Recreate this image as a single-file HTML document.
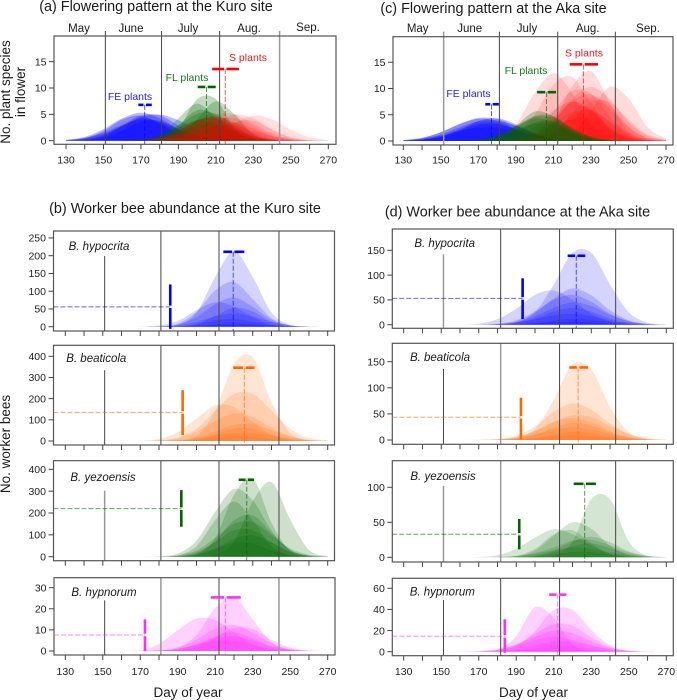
<!DOCTYPE html>
<html>
<head>
<meta charset="utf-8">
<title>Flowering pattern and worker bee abundance</title>
<style>
html,body{margin:0;padding:0;background:#fff;}
svg{display:block;font-family:"Liberation Sans",sans-serif;}
.title{font-size:14.4px;fill:#1a1a1a;text-anchor:middle;}
.axt{font-size:13.5px;fill:#1a1a1a;text-anchor:middle;}
.month{font-size:11.5px;fill:#1a1a1a;text-anchor:middle;}
.sp{font-size:11.5px;font-style:italic;fill:#1a1a1a;text-anchor:middle;}
.grp{font-size:10.5px;text-anchor:middle;}
.tick{font-size:10.5px;fill:#222;}
</style>
</head>
<body>
<svg id="figure" width="677" height="700" viewBox="0 0 677 700" xmlns="http://www.w3.org/2000/svg">
<rect x="0" y="0" width="677" height="700" fill="#fff"/>
<g id="plots"></g>

<text class="title" x="156" y="11">(a) Flowering pattern at the Kuro site</text>
<text class="title" x="493.5" y="13">(c) Flowering pattern at the Aka site</text>
<text class="title" x="185" y="213">(b) Worker bee abundance at the Kuro site</text>
<text class="title" x="517.5" y="216.5">(d) Worker bee abundance at the Aka site</text>

<text class="axt" transform="translate(10,92) rotate(-90)">No. plant species</text>
<text class="axt" transform="translate(25,92) rotate(-90)">in flower</text>
<text class="axt" transform="translate(10,444) rotate(-90)">No. worker bees</text>
<text class="axt" x="188" y="697">Day of year</text>
<text class="axt" x="533.5" y="697">Day of year</text>

<g>
<text class="month" x="79" y="32">May</text>
<text class="month" x="131" y="32">June</text>
<text class="month" x="188" y="32">July</text>
<text class="month" x="249" y="32">Aug.</text>
<text class="month" x="308" y="31">Sep.</text>
</g>
<g>
<text class="month" x="417.7" y="32">May</text>
<text class="month" x="469.7" y="32">June</text>
<text class="month" x="527" y="32">July</text>
<text class="month" x="587.7" y="32">Aug.</text>
<text class="month" x="648" y="32">Sep.</text>
</g>

<text class="grp" x="130" y="100" fill="#2222ee">FE plants</text>
<text class="grp" x="187" y="81" fill="#157a15">FL plants</text>
<text class="grp" x="248" y="61" fill="#f01515">S plants</text>
<text class="grp" x="468.5" y="97" fill="#2222ee">FE plants</text>
<text class="grp" x="526" y="74" fill="#157a15">FL plants</text>
<text class="grp" x="584" y="56.5" fill="#f01515">S plants</text>

<text class="sp" x="99" y="250">B. hypocrita</text>
<text class="sp" x="96.3" y="362">B. beaticola</text>
<text class="sp" x="103" y="481">B. yezoensis</text>
<text class="sp" x="104" y="596">B. hypnorum</text>
<text class="sp" x="444.7" y="247">B. hypocrita</text>
<text class="sp" x="440" y="361">B. beaticola</text>
<text class="sp" x="443" y="480">B. yezoensis</text>
<text class="sp" x="442.3" y="595.5">B. hypnorum</text>
</svg>

<script>
// Sampled days shared by every density curve
const sampleDays = [130,140,150,160,170,180,190,200,210,220,230,240,250,260,270];
const dayTicks = [130,140,150,160,170,180,190,200,210,220,230,240,250,260,270];
const dayTickLabels = [130,150,170,190,210,230,250,270];

// (a) Kuro flowering
const kuroFeCurves = [
[.15,.72,2.2,4.25,5.3,4.25,2.2,.72,.15,.02,0,0,0,0,0],
[.03,.22,1,2.9,4.8,4.8,2.9,1,.22,.03,0,0,0,0,0],
[.07,.48,1.85,4,4.75,3.15,1.15,.23,.03,0,0,0,0,0,0],
[0,.12,.82,2.67,4.3,3.5,1.43,.29,.03,0,0,0,0,0,0],
[0,.09,.54,1.9,3.6,3.8,2.2,.72,.14,.02,0,0,0,0,0],
[.13,.54,1.56,3,3.96,3.5,2.1,.86,.24,.05,0,0,0,0,0],
[.1,.45,1.28,2.85,4.47,4.96,3.9,2.15,.85,.24,.05,0,0,0,0]
];
const kuroFlCurves = [
[0,0,0,0,.03,.18,2.3,7.9,7.9,2.3,.18,.03,0,0,0],
[0,0,0,0,.08,.95,4.25,7,4.25,.95,.08,0,0,0,0],
[0,0,0,0,0,.05,.83,4.1,7.46,5,1.23,.1,0,0,0],
[0,0,0,0,.07,.66,3,5.8,4.9,1.8,.3,.02,0,0,0],
[0,0,0,0,.14,.87,2.83,5.1,5.1,2.83,.87,.14,0,0,0],
[0,0,0,0,.04,.36,1.7,3.8,4.4,2.5,.71,.1,0,0,0],
[0,0,0,0,.03,.3,1.8,3.9,4.2,2.2,.5,.05,0,0,0],
[0,0,0,0,.1,.8,2.5,3.9,3.3,1.5,.4,.05,0,0,0],
[0,0,0,.02,.15,.6,1.5,2.8,3,2,.9,.2,.03,0,0]
];
const kuroSCurves = [
[0,0,0,0,0,0,.05,.35,1.4,3.3,4.75,4.05,2.1,.65,.12],
[0,0,0,0,.06,.35,1.3,3.2,5,5,3.2,1.3,.35,.06,0],
[0,0,0,0,0,.05,.35,1.45,3.45,4.95,4.25,2.2,.68,.13,.02],
[0,0,0,0,.07,.45,1.62,3.5,4.5,3.5,1.62,.45,.07,0,0],
[0,0,0,0,0,0,.04,.38,1.65,3.5,3.8,2,.54,.07,0],
[0,0,0,0,0,.05,.35,1.35,2.9,3.46,2.27,.84,.17,.02,0],
[0,0,0,0,.06,.27,.9,1.93,2.85,2.85,1.93,.9,.27,.06,0],
[0,0,0,0,.03,.4,1.8,3.9,4.6,3.4,1.4,.3,.03,0,0],
[0,0,0,0,.1,.7,2.2,4,4.6,3,1.2,.3,.05,0,0],
[0,0,0,0,.02,.15,.8,2.4,4,4.3,2.8,1,.2,.02,0]
];
const kuroFeMarker = [172,168.6,175.8,6.8];
const kuroFlMarker = [205,200.3,209.9,10.2];
const kuroSMarker = [215,208,222.3,13.6];

// (c) Aka flowering
const akaFeCurves = [
[.15,.6,1.66,3.2,4.4,4.2,2.9,1.4,.5,.12,.02,0,0,0,0],
[.14,.58,1.68,3.25,4.25,3.8,2.3,.93,.26,.05,0,0,0,0,0],
[.03,.18,.77,2.1,3.8,4.35,3.2,1.5,.45,.09,0,0,0,0,0],
[.1,.43,1.24,2.57,3.76,3.9,2.85,1.48,.54,.14,.02,0,0,0,0],
[.04,.24,.9,2.2,3.4,3.4,2.2,.9,.24,.04,0,0,0,0,0],
[.04,.2,.7,1.8,3,3.15,2.3,1.15,.4,.1,0,0,0,0,0],
[.13,.44,1,1.9,2.55,2.5,1.8,1,.44,.12,0,0,0,0,0]
];
const akaFlCurves = [
[0,0,0,0,.06,.65,2.9,5.6,4.7,1.75,.3,.02,0,0,0],
[0,0,0,0,.07,.6,2.4,4.75,4.75,2.4,.6,.07,0,0,0],
[0,0,0,.03,.25,1.1,2.9,4.6,4.4,2.5,.85,.18,.03,0,0],
[0,0,0,.02,.2,1,2.8,4.25,3.55,1.6,.42,.06,0,0,0],
[0,0,0,0,.05,.38,1.6,3.5,3.8,2.1,.55,.08,0,0,0],
[0,0,0,.05,.25,.95,2.2,3.3,3.1,1.9,.8,.2,.03,0,0]
];
const akaSCurves = [
[0,0,0,0,.05,.57,3.2,9.1,12.9,9.1,3.2,.57,.05,0,0],
[0,0,0,0,0,.15,1.2,5,10.7,12.2,7.3,2.3,.4,.04,0],
[0,0,0,0,0,0,.03,.5,3.5,10.4,13.3,7.4,1.8,.2,.02],
[0,0,0,0,0,0,0,0,.15,1.4,5.8,10.3,8.1,2.7,.4],
[0,0,0,0,0,0,.17,1,3.7,8,10.3,8,3.7,1,.17],
[0,0,0,0,0,.03,.34,1.8,5.6,9.5,9,4.7,1.35,.22,.02],
[0,0,0,0,0,0,.05,.24,1.6,5.2,8.4,6.8,2.8,.56,.06],
[0,0,0,0,0,.13,.77,2.7,5.8,7.5,5.8,2.7,.77,.13,0],
[0,0,0,0,0,.05,.3,1.3,3.4,5.5,5.8,3.8,1.6,.45,.08],
[0,0,0,0,0,0,.1,.7,2.3,4.2,4.2,2.3,.7,.1,0],
[0,0,0,0,0,0,.23,1.2,3.9,7.6,8.9,6.2,2.6,.65,.1],
[0,0,0,0,0,0,0,.21,1.27,4.1,7.4,7.4,4.1,1.27,.21],
[0,0,0,0,0,0,.21,1.4,4.5,7.4,6,2.4,.5,.05,0],
[0,0,0,0,0,0,.04,.4,2,4.8,5.9,3.6,1.1,.17,0]
];
const akaFeMarker = [177,173.7,180.9,7];
const akaFlMarker = [206.3,201.3,211.4,9.3];
const akaSMarker = [226,218.7,233.8,14.6];

// (b) Kuro worker bees
const kuroHypocritaCurves = [
[0,0,0,0,0,0,5,40,140,212,140,40,5,0,0],
[0,0,0,0,0,.7,8.5,42,102,126,78,24,3.6,.3,0],
[0,0,0,0,0,.7,6,27,63,82,56,20,3.6,.4,0],
[0,0,0,0,.4,3.4,16,46,69,57,27,7,1,0,0],
[0,0,0,0,0,0,.8,7.4,30,54,43,14,2,0,0],
[0,0,0,0,0,.6,3.8,14,29,38,29,14,3.8,.6,0],
[0,0,0,0,0,.3,1.7,7,18,21.8,14,5,1.2,.1,0],
[0,0,0,0,0,0,.4,2.5,7,10,7,2.5,.4,0,0],
[0,0,0,0,0,.2,.8,2.5,4.8,6,4.8,2.5,.8,.2,0]
];
const kuroBeaticolaCurves = [
[0,0,0,0,0,0,2,25,142,365,395,183,38,3,0],
[0,0,0,0,0,2.5,15,58,143,222,222,143,58,15,2.5],
[0,0,0,0,1.5,9,41,106,168,160,91,31,6,.6,0],
[0,0,0,0,0,2.7,13,44,94,129,113,63,23,5,.8],
[0,0,0,0,0,.4,3,15,44,77,82,52,20,5,.7],
[0,0,0,0,0,0,1,7,30,59,59,30,7,1,0],
[0,0,0,0,0,1.5,3,12,26,38,38,26,12,3,.6],
[0,0,0,0,0,.3,1.5,6,15,22,18,9,3,.5,0]
];
const kuroYezoensisCurves = [
[0,0,0,0,0,0,.4,9,85,283,358,155,26,1.5,0],
[0,0,0,0,0,0,0,.3,7,69,253,341,170,31,2],
[0,0,0,0,0,2,15,73,205,310,258,120,31,5,.4],
[0,0,0,0,0,0,6,48,167,252,167,48,6,0,0],
[0,0,0,0,0,0,1.7,16,71,166,189,109,31,4,.3],
[0,0,0,0,0,0,6,29,86,151,158,100,38,9,1],
[0,0,0,0,0,0,3,21,67,121,121,67,21,3,0],
[0,0,0,0,0,0,1,10,38,83,99,65,24,5,.5],
[0,0,0,0,0,0,1,9,35,66,61,29,7,1,0]
];
const kuroHypnorumCurves = [
[0,0,0,0,0,.1,1.4,7.6,20.4,25.6,15,4.2,.5,.04,0],
[0,0,0,0,.3,3.4,9.9,15.4,14.7,8.7,3.2,.7,.1,0,0],
[0,0,0,0,0,.3,1.7,5.4,10.6,12.4,8.7,3.7,.9,.1,0],
[0,0,0,0,0,0,.4,2.1,6.4,10.9,10.3,5.4,1.6,.2,0],
[0,0,0,0,0,.1,.9,3.1,7,9,5.9,2.1,.4,0,0],
[0,0,0,0,0,.3,1,3,6,7,5,2.4,.8,.2,0],
[0,0,0,0,0,.3,1,3,4.7,4.7,3,1,.3,0,0]
];
const kuroHypocritaPeak = [219.6,214.3,225.5,211];
const kuroHypocritaOnset = [186,-6,119,56];
const kuroBeaticolaPeak = [225.5,219.6,230.9,346];
const kuroBeaticolaOnset = [192.6,28,240,135];
const kuroYezoensisPeak = [226.8,222.5,230.7,352];
const kuroYezoensisOnset = [191.9,137,305,220];
const kuroHypnorumPeak = [215.4,207.6,223.6,25.4];
const kuroHypnorumOnset = [172.5,0,15,7.6];

// (d) Aka worker bees
const akaHypocritaCurves = [
[0,0,0,0,0,.4,4,25,81,145,145,81,25,4,.4],
[0,0,0,0,2.3,11,32,60,69,50,22,6,1,0,0],
[0,0,0,0,0,1,7,24,53,73,59,29,9,1.5,0],
[0,0,0,0,0,2,9,27,50,60,46,22,7,1.5,0],
[0,0,0,0,0,1,5,17,34,45,38,20,7,1.5,0],
[0,0,0,0,0,.6,3.4,12.5,26,34,26,12.5,3.4,.6,0],
[0,0,0,0,.2,1.2,4.4,11,19,22,17,8.8,3,.6,0],
[0,0,0,0,0,.2,1,3.5,8,11.7,10,5,2,.4,0],
[0,0,0,0,0,.2,.8,2.5,4.8,6,4.8,2.5,.8,.2,0]
];
const akaBeaticolaCurves = [
[0,0,0,0,0,.2,2.8,21,77,145,135,63,14.5,1.7,0],
[0,0,0,0,.6,1.6,8,26,54,70,58,31,11,2.4,.3],
[0,0,0,0,0,1.1,6,17,35,47,44,27,12,3.4,.7],
[0,0,0,0,0,1,5.6,17,34,42,34,17,5.6,1,0],
[0,0,0,0,0,.4,2.4,9.6,23,33,28,14,4.6,.8,0],
[0,0,0,0,.2,1,4,11,20,24,20,11,4,1,.2],
[0,0,0,0,0,0,.8,3.8,10,15.8,13,6,1.5,.2,0],
[0,0,0,0,0,.2,1.2,3.6,7,9,7,3.6,1.2,.2,0]
];
const akaYezoensisCurves = [
[0,0,0,0,0,0,0,0,2,22.5,83,83,22.5,2,.1],
[0,0,0,0,0,0,1.4,9.5,31,50,41,16.6,3.4,.4,0],
[0,0,0,0,.5,3,12,28,40,33,17,5.4,1,.1,0],
[0,0,0,0,0,.1,2,12,33,38.6,20,4.4,.4,0,0],
[0,0,0,0,0,0,.3,2.2,9.6,22.6,29.5,21.4,8.4,1.9,.3],
[0,0,0,0,0,.3,1.5,6,14,24,25,17,7,2,.4],
[0,0,0,0,0,0,.3,1.9,6.9,16,19.8,13,4.8,1,.1],
[0,0,0,0,.1,.5,2,5,10,14,12,7,3,.8,.1],
[0,0,0,0,0,0,.2,1,3.9,7.4,7.4,3.9,1,.2,0]
];
const akaHypnorumCurves = [
[0,0,0,0,0,1.6,14.7,42,32,6.8,.5,0,0,0,0],
[0,0,0,0,0,.8,5.5,19.4,39.5,39.5,20.5,5.8,.9,.1,0],
[0,0,0,0,.2,1.5,6.5,17,26,24.5,13.5,4.5,.9,.1,0],
[0,0,0,0,.4,2.1,6.8,14.4,19.8,17.4,9.8,3.5,.8,.1,0],
[0,0,0,0,.6,2.4,6,11,14,11,6,2.4,.6,.1,0],
[0,0,0,0,0,.4,2,5.6,9.4,9.4,5.6,2,.4,0,0],
[0,0,0,0,0,.2,1,3,5.8,5,2.5,.7,.1,0,0]
];
const akaHypocritaPeak = [222,217.4,226.8,139];
const akaHypocritaOnset = [193.4,11.5,93.5,53];
const akaBeaticolaPeak = [223,218.3,228.3,139];
const akaBeaticolaOnset = [192.5,1,81,43.5];
const akaYezoensisPeak = [226.5,220.6,232.5,105];
const akaYezoensisOnset = [191.6,11.4,54.7,33];
const akaHypnorumPeak = [212.1,207.6,216.7,54];
const akaHypnorumOnset = [183.9,-1,30.7,14.6];

// Month boundaries (day of year) and y tick values
const kuroMonthDays = [151,181,212,244];
const akaFlowerMonthDays = [151.5,181.2,212.3,243];
const akaBeeMonthDays = [151.2,181.7,213.1,243];
const ticksFlower = [0,5,10,15];
const ticksKuroHypocrita = [0,50,100,150,200,250];
const ticksKuroBeaticola = [0,100,200,300,400];
const ticksKuroYezoensis = [0,100,200,300,400];
const ticksKuroHypnorum = [0,10,20,30];
const ticksAkaHypocrita = [0,50,100,150];
const ticksAkaBeaticola = [0,50,100,150];
const ticksAkaYezoensis = [0,50,100];
const ticksAkaHypnorum = [0,20,40,60];

const SVGNS = 'http://www.w3.org/2000/svg';
const plotRoot = document.getElementById('plots');
const BLUE = '#0000ff', GREEN = '#006400', RED = '#ff0000', ORANGE = '#ff6600', MAGENTA = '#ff2cff';

function make(tag, parent, attrs) {
  const node = document.createElementNS(SVGNS, tag);
  for (const k in attrs) node.setAttribute(k, attrs[k]);
  parent.appendChild(node);
  return node;
}

function areaPath(values, sx, sy) {
  const base = sy(0);
  const pts = sampleDays.map((d, i) => [sx(d), sy(values[i])]);
  let p = 'M' + pts[0][0].toFixed(1) + ' ' + base.toFixed(1) + 'L' + pts[0][0].toFixed(1) + ' ' + pts[0][1].toFixed(1);
  for (let i = 0; i < pts.length - 1; i++) {
    const p0 = pts[Math.max(0, i - 1)], p1 = pts[i], p2 = pts[i + 1], p3 = pts[Math.min(pts.length - 1, i + 2)];
    const c1x = p1[0] + (p2[0] - p0[0]) / 6, c1y = Math.min(base, p1[1] + (p2[1] - p0[1]) / 6);
    const c2x = p2[0] - (p3[0] - p1[0]) / 6, c2y = Math.min(base, p2[1] - (p3[1] - p1[1]) / 6);
    p += 'C' + c1x.toFixed(1) + ' ' + c1y.toFixed(1) + ' ' + c2x.toFixed(1) + ' ' + c2y.toFixed(1) + ' ' + p2[0].toFixed(1) + ' ' + p2[1].toFixed(1);
  }
  p += 'L' + pts[pts.length - 1][0].toFixed(1) + ' ' + base.toFixed(1) + 'Z';
  return p;
}

function drawPanel(cfg) {
  const g = make('g', plotRoot, {});
  
  
  const sx = d => cfg.x130 + (d - 130) * (cfg.x270 - cfg.x130) / 140;
  const sy = v => cfg.y0 - v * cfg.perUnit;

  cfg.layers.forEach(layer => {
    layer.curves.forEach(values => {
      const curve = make('path', g, { d: areaPath(values, sx, sy), fill: layer.color, 'fill-opacity': layer.alpha });
      
      
    });
  });

  cfg.months.forEach((day, i) => {
    const soft = cfg.soft.indexOf(i) >= 0;
    const top = (i === 0 && cfg.firstMonthTop !== undefined) ? sy(cfg.firstMonthTop) : (cfg.monthAbove ? cfg.top - 5 : cfg.top);
    const line = make('line', g, { x1: sx(day), x2: sx(day), y1: top, y2: cfg.bottom, stroke: soft ? '#999' : '#444', 'stroke-width': soft ? 1.5 : 1 });
    
    
  });

  const box = make('rect', g, { x: cfg.left, y: cfg.top, width: cfg.right - cfg.left, height: cfg.bottom - cfg.top, fill: 'none', stroke: '#555', 'stroke-width': 1.2 });
  
  

  dayTicks.forEach(d => {
    const t = make('line', g, { x1: sx(d), x2: sx(d), y1: cfg.bottom, y2: cfg.bottom + 5, stroke: '#444', 'stroke-width': 1 });
    
    
  });
  if (cfg.xLabels) {
    dayTickLabels.forEach(d => {
      const lab = make('text', g, { class: 'tick', x: sx(d), y: cfg.xLabelY, 'text-anchor': 'middle' });
      lab.textContent = d;
      
      
    });
  }
  cfg.yTicks.forEach(v => {
    const t = make('line', g, { x1: cfg.left - 5, x2: cfg.left, y1: sy(v), y2: sy(v), stroke: '#444', 'stroke-width': 1 });
    
    
    const lab = make('text', g, { class: 'tick', x: cfg.left - 7.5, y: sy(v) + 3.7, 'text-anchor': 'end' });
    lab.textContent = v;
    
    
  });

  cfg.peaks.forEach(m => {
    const meanX = sx(m.values[0]), barY = sy(m.values[3]);
    const stem = make('line', g, { x1: meanX, x2: meanX, y1: barY, y2: cfg.bottom, stroke: m.color, 'stroke-opacity': .65, 'stroke-width': 1, 'stroke-dasharray': '5 2' });
    
    
    const left = make('line', g, { x1: sx(m.values[1]), x2: meanX - 1.2, y1: barY, y2: barY, stroke: m.color, 'stroke-width': 2.6 });
    
    
    const right = make('line', g, { x1: meanX + 1.2, x2: sx(m.values[2]), y1: barY, y2: barY, stroke: m.color, 'stroke-width': 2.6 });
    
    
  });

  if (cfg.onset) {
    const o = cfg.onset.values, c = cfg.onset.color;
    const ox = sx(o[0]), my = sy(o[3]);
    const dash = make('line', g, { x1: cfg.left, x2: ox, y1: my, y2: my, stroke: c, 'stroke-opacity': .6, 'stroke-width': 1, 'stroke-dasharray': '5 2' });
    
    
    const up = make('line', g, { x1: ox, x2: ox, y1: sy(o[2]), y2: my - 1.2, stroke: c, 'stroke-width': 2.6 });
    
    
    const down = make('line', g, { x1: ox, x2: ox, y1: my + 1.2, y2: sy(o[1]), stroke: c, 'stroke-width': 2.6 });
    
    
  }
}

// Panel (a)
drawPanel({ name:'panel-a-kuro-flowering', left:54, right:336, top:36, bottom:144.3, x130:66, x270:328.3, y0:140.7, perUnit:5.27,
  monthAbove:true, months:kuroMonthDays, soft:[3], xLabels:true, xLabelY:163.5, yTicks:ticksFlower,
  layers:[{curves:kuroFeCurves,color:BLUE,alpha:.27},{curves:kuroFlCurves,color:GREEN,alpha:.24},{curves:kuroSCurves,color:RED,alpha:.13}],
  peaks:[{values:kuroFeMarker,color:BLUE},{values:kuroFlMarker,color:GREEN},{values:kuroSMarker,color:RED}] });
// Panel (c)
drawPanel({ name:'panel-c-aka-flowering', left:393, right:673, top:36.7, bottom:145, x130:403.3, x270:666, y0:141, perUnit:5.25,
  monthAbove:true, months:akaFlowerMonthDays, soft:[0], xLabels:true, xLabelY:163.5, yTicks:ticksFlower,
  layers:[{curves:akaFeCurves,color:BLUE,alpha:.27},{curves:akaSCurves,color:RED,alpha:.14},{curves:akaFlCurves,color:GREEN,alpha:.24}],
  peaks:[{values:akaFeMarker,color:BLUE},{values:akaFlMarker,color:GREEN},{values:akaSMarker,color:RED}] });
// Panel (b)
drawPanel({ name:'panel-b-hypocrita', left:53.5, right:334.5, top:231, bottom:331, x130:65.3, x270:327.7, y0:326.7, perUnit:.355,
  months:kuroMonthDays, soft:[], firstMonthTop:199, yTicks:ticksKuroHypocrita,
  layers:[{curves:kuroHypocritaCurves,color:BLUE,alpha:.17}], peaks:[{values:kuroHypocritaPeak,color:BLUE}], onset:{values:kuroHypocritaOnset,color:BLUE} });
drawPanel({ name:'panel-b-beaticola', left:53.5, right:334.5, top:345.3, bottom:445, x130:65.3, x270:327.7, y0:441, perUnit:.2118,
  months:kuroMonthDays, soft:[], firstMonthTop:334, yTicks:ticksKuroBeaticola,
  layers:[{curves:kuroBeaticolaCurves,color:ORANGE,alpha:.17}], peaks:[{values:kuroBeaticolaPeak,color:ORANGE}], onset:{values:kuroBeaticolaOnset,color:ORANGE} });
drawPanel({ name:'panel-b-yezoensis', left:53.5, right:334.5, top:460.7, bottom:560.7, x130:65.3, x270:327.7, y0:556.7, perUnit:.2185,
  months:kuroMonthDays, soft:[0], firstMonthTop:302, yTicks:ticksKuroYezoensis,
  layers:[{curves:kuroYezoensisCurves,color:GREEN,alpha:.2}], peaks:[{values:kuroYezoensisPeak,color:GREEN}], onset:{values:kuroYezoensisOnset,color:GREEN} });
drawPanel({ name:'panel-b-hypnorum', left:54, right:335, top:577.7, bottom:655, x130:65.3, x270:327.7, y0:651, perUnit:2.11,
  months:kuroMonthDays, soft:[1,3], firstMonthTop:24, xLabels:true, xLabelY:675, yTicks:ticksKuroHypnorum,
  layers:[{curves:kuroHypnorumCurves,color:MAGENTA,alpha:.22}], peaks:[{values:kuroHypnorumPeak,color:MAGENTA}], onset:{values:kuroHypnorumOnset,color:MAGENTA} });
// Panel (d)
drawPanel({ name:'panel-d-hypocrita', left:392.3, right:673.3, top:229, bottom:328.3, x130:403.7, x270:666.3, y0:324.7, perUnit:.496,
  months:akaBeeMonthDays, soft:[0], firstMonthTop:142, yTicks:ticksAkaHypocrita,
  layers:[{curves:akaHypocritaCurves,color:BLUE,alpha:.17}], peaks:[{values:akaHypocritaPeak,color:BLUE}], onset:{values:akaHypocritaOnset,color:BLUE} });
drawPanel({ name:'panel-d-beaticola', left:392.3, right:673.3, top:343.3, bottom:444.3, x130:403.7, x270:666.3, y0:440, perUnit:.522,
  months:akaBeeMonthDays, soft:[1], firstMonthTop:136, yTicks:ticksAkaBeaticola,
  layers:[{curves:akaBeaticolaCurves,color:ORANGE,alpha:.17}], peaks:[{values:akaBeaticolaPeak,color:ORANGE}], onset:{values:akaBeaticolaOnset,color:ORANGE} });
drawPanel({ name:'panel-d-yezoensis', left:392.3, right:673.3, top:460.7, bottom:562, x130:403.7, x270:666.3, y0:557.3, perUnit:.7,
  months:akaBeeMonthDays, soft:[0,1], firstMonthTop:102, yTicks:ticksAkaYezoensis,
  layers:[{curves:akaYezoensisCurves,color:GREEN,alpha:.17}], peaks:[{values:akaYezoensisPeak,color:GREEN}], onset:{values:akaYezoensisOnset,color:GREEN} });
drawPanel({ name:'panel-d-hypnorum', left:392.3, right:673.3, top:578.3, bottom:655.7, x130:403.7, x270:666.3, y0:651.7, perUnit:1.057,
  months:akaBeeMonthDays, soft:[], firstMonthTop:49, xLabels:true, xLabelY:675, yTicks:ticksAkaHypnorum,
  layers:[{curves:akaHypnorumCurves,color:MAGENTA,alpha:.22}], peaks:[{values:akaHypnorumPeak,color:MAGENTA}], onset:{values:akaHypnorumOnset,color:MAGENTA} });
</script>
</body>
</html>
